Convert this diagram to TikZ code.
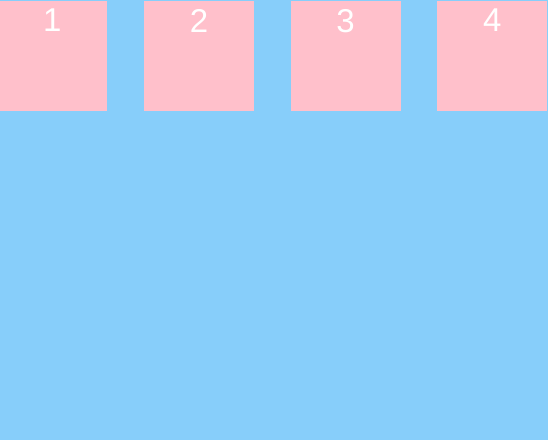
\documentclass[tikz,border=0pt]{standalone}
\usepackage{fontspec}
\setmainfont{Liberation Sans}
\usepackage{tikz}
\usetikzlibrary{positioning}
\definecolor{skyblue}{HTML}{87CEFA}
\definecolor{pinkbox}{HTML}{FFC0CB}

\begin{document}
\begin{tikzpicture}[x=1pt,y=-1pt,node distance=36.67pt,
                    box/.style={rectangle,fill=pinkbox,minimum width=110pt,minimum height=110pt,inner sep=0pt,outer sep=0pt},
                    num/.style={text=white,font=\fontsize{33}{33}\selectfont,inner sep=0pt,anchor=north}]

  \fill[skyblue] (0,0) rectangle (548,440);
  \useasboundingbox (0,0) rectangle (548,440);

  \node[box,anchor=north west] (1) at (-2.67,1) {};
  \node[box] (2) [right=of 1] {};
  \node[box] (3) [right=of 2] {};
  \node[box] (4) [right=of 3] {};

  \node[num] (n1) at ([yshift=-8pt]1.north) {1};
  \node[num] (n2) at ([yshift=-8pt]2.north) {2};
  \node[num] (n3) at ([yshift=-8pt]3.north) {3};
  \node[num] (n4) at ([yshift=-8pt]4.north) {4};
\end{tikzpicture}
\end{document}
